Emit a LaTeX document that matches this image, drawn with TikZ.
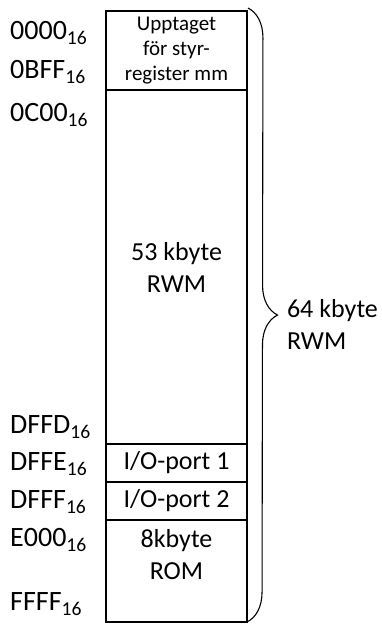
\documentclass[tikz,border=0pt]{standalone}
\usepackage{fontspec}
\setmainfont{Carlito}
\usetikzlibrary{positioning,decorations.pathreplacing}

\begin{document}
\begin{tikzpicture}[x=1pt, y=-1pt,
  cell/.style={draw, line width=1.6pt, outer sep=0pt, inner sep=0pt, minimum width=141pt, align=center, font=\fontsize{26}{32}\selectfont},
  addr/.style={anchor=west, inner sep=0pt, font=\fontsize{28}{31}\selectfont},
  membrace/.style={decorate, decoration={brace, amplitude=30pt}, line width=1.1pt}]
\useasboundingbox (0,0) rectangle (382,625);
% memory cells, top to bottom
\node[cell, minimum height=79pt, font=\fontsize{21}{25}\selectfont] (ctrl) at (176.5,50.5) {Upptaget\\för styr-\\register mm};
\node[cell, minimum height=354pt, below=0pt of ctrl] (ram) {53 kbyte\\RWM};
\node[cell, minimum height=38pt, below=0pt of ram] (port1) {I/O-port 1};
\node[cell, minimum height=38pt, below=0pt of port1] (port2) {I/O-port 2};
\node[cell, minimum height=102pt, below=0pt of port2] (rom) {8kbyte\\ROM\\[2pt]~};
% addresses
\node[addr] (a0000) at (10,33) {0000\textsubscript{16}};
\node[addr] (a0BFF) at (10,72) {0BFF\textsubscript{16}};
\node[addr] (a0C00) at (10,115) {0C00\textsubscript{16}};
\node[addr] (aDFFD) at (10,427) {DFFD\textsubscript{16}};
\node[addr] (aDFFE) at (10,464) {DFFE\textsubscript{16}};
\node[addr] (aDFFF) at (10,502) {DFFF\textsubscript{16}};
\node[addr] (aE000) at (10,540) {E000\textsubscript{16}};
\node[addr] (aFFFF) at (10,604) {FFFF\textsubscript{16}};
% total
\coordinate (btop) at ([xshift=1pt,yshift=3pt]ctrl.north east);
\coordinate (bbot) at (rom.south east);
\draw[membrace] (btop) -- (bbot) node[midway, right=39pt, yshift=-9pt, inner sep=0pt, align=left, font=\fontsize{26}{32}\selectfont] (total) {64 kbyte\\RWM};
\end{tikzpicture}
\end{document}
